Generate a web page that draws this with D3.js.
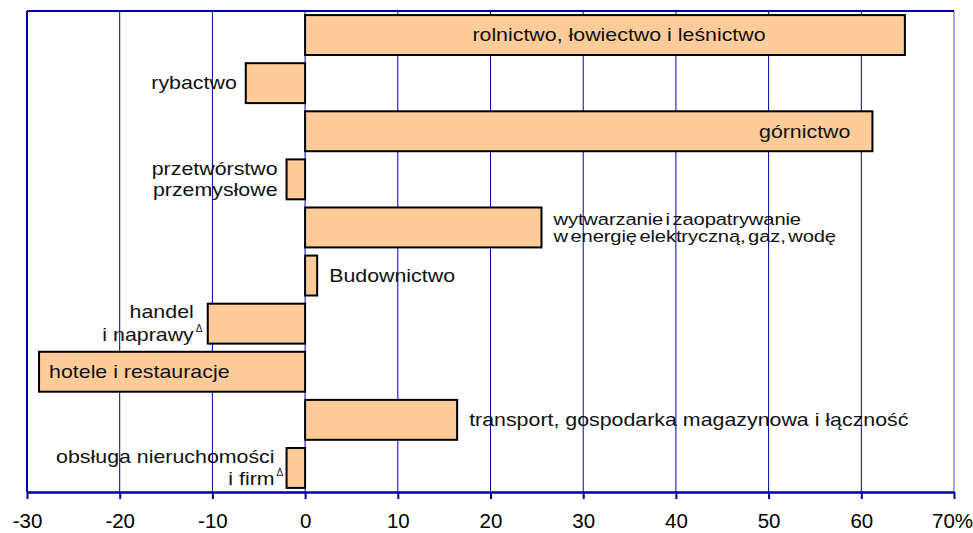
<!DOCTYPE html>
<html><head><meta charset="utf-8">
<script src="https://cdn.jsdelivr.net/npm/d3@7"></script>
<style>
body{margin:0;background:#fff;}
svg{display:block;font-family:"Liberation Sans",Arial,sans-serif;}
</style></head>
<body>
<svg id="c" width="973" height="533"></svg>
<script>
const categories = [
  "rolnictwo, łowiectwo i leśnictwo",
  "rybactwo",
  "górnictwo",
  "przetwórstwo|przemysłowe",
  "wytwarzanie i zaopatrywanie|w energię elektryczną, gaz, wodę",
  "Budownictwo",
  "handel|i naprawy^",
  "hotele i restauracje",
  "transport, gospodarka magazynowa i łączność",
  "obsługa nieruchomości|i firm^"
];
const values = [64.7, -6.4, 61.2, -2.0, 25.5, 1.3, -10.5, -28.7, 16.4, -2.0];
const labelModes = ["inside-center","outside","inside-end","outside","outside","outside","outside","inside-start","outside","outside"];
const tickValues = [-30,-20,-10,0,10,20,30,40,50,60,70];
const tickLabels = ["-30","-20","-10","0","10","20","30","40","50","60","70%"];

const svg = d3.select("#c");
const m = {left:27, right:954, top:11, bottom:492};
const x = d3.scaleLinear().domain([-30,70]).range([m.left, m.right]);
const y = d3.scaleBand().domain(d3.range(categories.length)).range([m.top, m.bottom]).paddingInner(0.17).paddingOuter(0.085);
const navy = "#000099";
const SX = 1.187;

// gridlines
svg.append("g").selectAll("line").data(tickValues.filter(v=>v>-30)).join("line")
  .attr("x1", d=>x(d)).attr("x2", d=>x(d)).attr("y1", m.top).attr("y2", m.bottom)
  .attr("stroke", d=> d===70 ? "#5555bb" : navy).attr("stroke-width", 1);

// frame left & top
svg.append("line").attr("x1", m.left).attr("x2", m.left).attr("y1", m.top).attr("y2", m.bottom).attr("stroke", navy).attr("stroke-width", 2);
svg.append("line").attr("x1", m.left).attr("x2", m.right).attr("y1", m.top).attr("y2", m.top).attr("stroke", navy).attr("stroke-width", 2);

// bars
svg.append("g").selectAll("rect").data(values).join("rect")
  .attr("x", d=>x(Math.min(0,d))).attr("width", d=>Math.abs(x(d)-x(0)))
  .attr("y", (d,i)=>y(i)).attr("height", y.bandwidth())
  .attr("fill", "#FFCC99").attr("stroke", "#000").attr("stroke-width", 2);

// x axis
const ax = svg.append("g").attr("transform", `translate(0,${m.bottom})`)
  .call(d3.axisBottom(x).tickValues(tickValues).tickFormat((d,i)=>tickLabels[i]).tickSize(7).tickSizeOuter(0));
ax.select(".domain").attr("stroke", navy).attr("stroke-width", 2.5);
ax.selectAll(".tick line").attr("stroke", navy).attr("stroke-width", 2);
ax.selectAll(".tick text").attr("font-size", 20.5).attr("fill", "#000").attr("y", 36).attr("dy", 0)
  .attr("dx", d => d===70 ? -2 : 0)
  .attr("font-family", '"Liberation Sans",Arial,sans-serif');

// labels
categories.forEach((c,i)=>{
  const v = values[i];
  const lines = c.split("|");
  const mode = labelModes[i];
  const cy = y(i) + y.bandwidth()/2;
  let tx, anchor;
  if (mode==="inside-center"){ tx = (x(0)+x(v))/2 + 14; anchor="middle"; }
  else if (mode==="inside-end"){ tx = x(v) - 22; anchor="end"; }
  else if (mode==="inside-start"){ tx = x(v) + 10; anchor="start"; }
  else { if (v>=0){ tx = x(v)+12; anchor="start"; } else { tx = x(v)-(i===6?14:(i===9?12:9)); anchor="end"; } }
  let lh = 0;
  if (lines.length>1) lh = i===4 ? 17 : (i===6 ? 23 : 21.5);
  const t = svg.append("text").attr("text-anchor", anchor).attr("font-size", i===4 ? 17 : 18).attr("fill","#111")
    .attr("transform", `translate(${tx},0) scale(${SX},1)`);
  if (i===4) t.attr("letter-spacing", -0.1).attr("word-spacing", -2.5);
  lines.forEach((ln,k)=>{
    const sup = ln.endsWith("^");
    const txt = sup ? ln.slice(0,-1) : ln;
    const yy = cy + (k-(lines.length-1)/2)*lh;
    t.append("tspan").attr("x", 0).attr("y", yy).attr("dy","0.35em").text(txt);
    if (sup) svg.append("text").attr("x", tx+2).attr("y", yy - 3).attr("font-size", 10).attr("fill","#111").text("Δ");
  });
});
</script>
</body></html>
